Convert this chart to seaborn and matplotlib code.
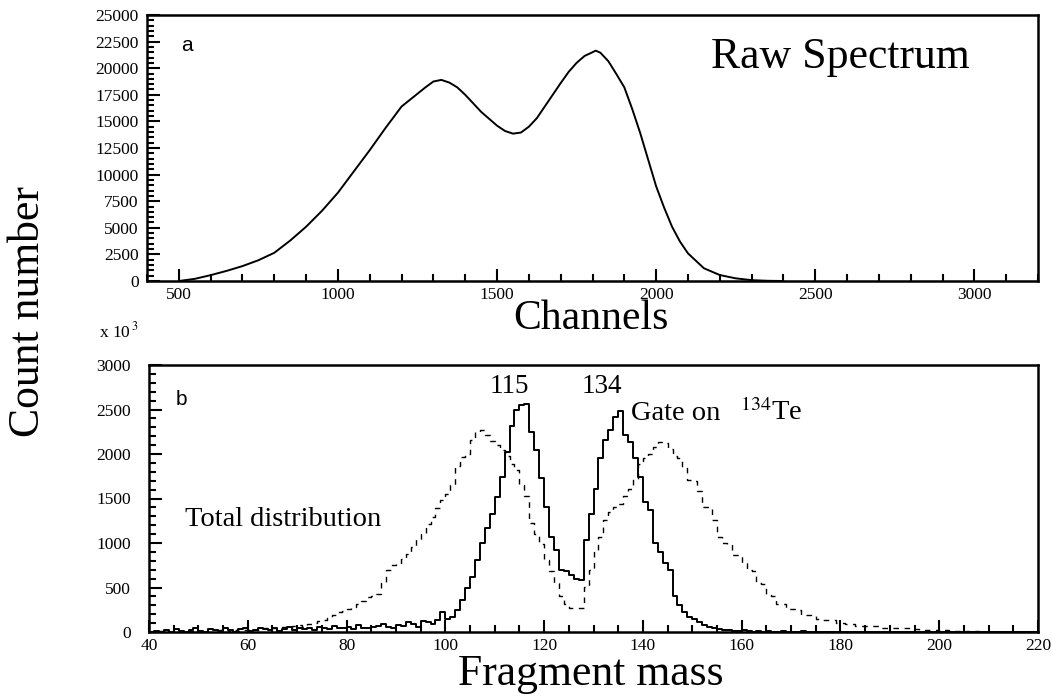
import numpy as np
import pandas as pd
import seaborn as sns
import matplotlib.pyplot as plt
from matplotlib.ticker import MultipleLocator

# ---------------- data ----------------
# (a) raw spectrum
channels = [500, 550, 600, 650, 700, 750, 800, 850, 900, 950, 1000, 1050, 1100, 1150,
            1200, 1225, 1250, 1275, 1300, 1325, 1350, 1375, 1400, 1425, 1450, 1475,
            1500, 1525, 1550, 1575, 1600, 1625, 1650, 1675, 1700, 1725, 1750, 1775,
            1800, 1810, 1825, 1850, 1875, 1900, 1925, 1950, 1975, 2000, 2025, 2050,
            2075, 2100, 2150, 2200, 2250, 2300, 2350, 2400]
raw_counts = [0, 200, 550, 950, 1400, 1950, 2650, 3800, 5100, 6600, 8300, 10300, 12300, 14400,
              16400, 17000, 17600, 18200, 18750, 18900, 18650, 18200, 17500, 16700, 15900, 15250,
              14600, 14100, 13850, 13950, 14500, 15300, 16400, 17500, 18600, 19650, 20500, 21150,
              21500, 21650, 21450, 20650, 19450, 18200, 16150, 13900, 11400, 8900, 6900, 5100,
              3700, 2600, 1200, 560, 250, 80, 20, 0]

# (b) fragment mass distributions (one value per unit mass bin, 40..219)
mass = list(range(40, 220))
gate_counts = [
    0, 10, 0, 20, 0, 30, 10, 0, 20, 40,
    10, 0, 30, 20, 10, 50, 20, 0, 30, 40,
    10, 20, 50, 30, 20, 40, 10, 30, 60, 20,
    40, 30, 50, 20, 60, 40, 30, 70, 50, 40,
    60, 30, 80, 50, 40, 60, 70, 90, 60, 50,
    80, 70, 110, 90, 60, 120, 110, 90, 130, 220,
    150, 170, 250, 360, 490, 620, 810, 1000, 1165, 1330,
    1520, 1745, 2025, 2310, 2490, 2550, 2560, 2250, 2045, 1730,
    1410, 1070, 920, 700, 680, 640, 600, 580, 1035, 1330,
    1610, 1950, 2160, 2270, 2420, 2480, 2210, 2140, 1950, 1745,
    1465, 1370, 1000, 900, 770, 700, 400, 300, 230, 170,
    150, 115, 80, 60, 40, 30, 20, 25, 10, 15,
    20, 10, 5, 10, 0, 10, 5, 0, 10, 0,
    5, 0, 10, 0, 0, 5, 0, 0, 5, 0,
    0, 5, 0, 0, 0, 5, 0, 0, 0, 0,
    0, 0, 0, 0, 0, 0, 0, 0, 0, 0,
    0, 0, 0, 0, 0, 0, 0, 0, 0, 0,
    0, 0, 0, 0, 0, 0, 0, 0, 0, 0,
]
total_counts = [
    0, 0, 10, 0, 0, 10, 0, 0, 10, 0,
    0, 10, 0, 10, 20, 0, 10, 20, 10, 20,
    30, 20, 20, 40, 30, 50, 40, 60, 50, 70,
    75, 60, 90, 100, 120, 140, 170, 190, 230, 240,
    260, 280, 320, 350, 390, 400, 430, 550, 700, 750,
    760, 820, 880, 950, 1040, 1100, 1210, 1290, 1390, 1480,
    1550, 1650, 1860, 1970, 2000, 2160, 2250, 2270, 2210, 2150,
    2100, 2050, 1980, 1890, 1820, 1650, 1530, 1220, 1100, 990,
    810, 680, 545, 400, 320, 270, 270, 265, 510, 700,
    920, 1070, 1260, 1350, 1400, 1440, 1530, 1610, 1720, 1890,
    1950, 2000, 2080, 2140, 2120, 2060, 1980, 1950, 1840, 1710,
    1700, 1580, 1410, 1400, 1260, 1070, 1000, 990, 870, 860,
    770, 700, 690, 550, 540, 420, 410, 320, 320, 255,
    255, 250, 190, 190, 185, 145, 140, 140, 140, 100,
    100, 95, 95, 70, 70, 65, 65, 65, 40, 40,
    40, 40, 40, 40, 35, 30, 20, 20, 25, 20,
    15, 20, 10, 15, 10, 10, 5, 10, 5, 0,
    5, 0, 5, 0, 0, 5, 0, 0, 0, 0,
]

# ---------------- style ----------------
sns.set_theme(style="ticks")
plt.rcParams['font.family'] = ['Liberation Serif', 'DejaVu Serif']
plt.rcParams['mathtext.fontset'] = 'stix'
for k in ('text.color', 'axes.labelcolor', 'xtick.color', 'ytick.color', 'axes.edgecolor'):
    plt.rcParams[k] = 'black'

W, H = 1052, 697
fig = plt.figure(figsize=(W / 100, H / 100), dpi=100)
ax1 = fig.add_axes([147 / W, 1 - 281 / H, (1038 - 147) / W, (281 - 15) / H])
ax2 = fig.add_axes([149 / W, 1 - 632 / H, (1038 - 149) / W, (632 - 365) / H])

raw_df = pd.DataFrame({"channel": channels, "count": raw_counts})
sns.lineplot(data=raw_df, x="channel", y="count", ax=ax1, color="black", linewidth=1.4)

mass_df = pd.DataFrame({"mass": mass, "gate": gate_counts, "total": total_counts})
sns.histplot(data=mass_df, x="mass", weights="total", binwidth=1, binrange=(40, 220),
             element="step", fill=False, color="black", linewidth=1.0,
             linestyle=(0, (4, 4)), ax=ax2)
sns.histplot(data=mass_df, x="mass", weights="gate", binwidth=1, binrange=(40, 220),
             element="step", fill=False, color="black", linewidth=1.4, ax=ax2)

# axes limits / ticks
ax1.set_xlim(400, 3200)
ax1.set_ylim(0, 25000)
ax1.xaxis.set_major_locator(MultipleLocator(500))
ax1.xaxis.set_minor_locator(MultipleLocator(100))
ax1.yaxis.set_major_locator(MultipleLocator(2500))
ax1.yaxis.set_minor_locator(MultipleLocator(500))

ax2.set_xlim(40, 220)
ax2.set_ylim(0, 3000)
ax2.xaxis.set_major_locator(MultipleLocator(20))
ax2.xaxis.set_minor_locator(MultipleLocator(5))
ax2.yaxis.set_major_locator(MultipleLocator(500))
ax2.yaxis.set_minor_locator(MultipleLocator(100))

for ax in (ax1, ax2):
    ax.set_xlabel("")
    ax.set_ylabel("")
    for s in ax.spines.values():
        s.set_visible(True)
        s.set_linewidth(1.8)
        s.set_color("black")
    ax.tick_params(which="both", direction="in", top=False, right=False,
                   width=1.5, color="black", labelcolor="black", labelsize=12.5)
    ax.tick_params(which="major", length=9)
    ax.tick_params(which="minor", length=5)
    ax.tick_params(axis="x", which="both", pad=4)
ax1.tick_params(axis="y", which="both", pad=6)
ax2.tick_params(axis="y", which="both", pad=13)

# texts
ax1.text(0.045, 0.885, "a", transform=ax1.transAxes, fontsize=15,
         family=["Liberation Sans", "DejaVu Sans"], ha="center", va="center")
ax1.text(0.778, 0.801, "Raw Spectrum", transform=ax1.transAxes, fontsize=31.5,
         ha="center", va="baseline")
ax2.text(0.037, 0.87, "b", transform=ax2.transAxes, fontsize=15,
         family=["Liberation Sans", "DejaVu Sans"], ha="center", va="center")

ax2.text(112.9, 2685, "115", fontsize=19.5, ha="center", va="baseline")
ax2.text(131.6, 2685, "134", fontsize=19.5, ha="center", va="baseline")
ax2.text(137.5, 2382, "Gate on", fontsize=20.5, ha="left", va="baseline")
ax2.text(159.6, 2382, r"$^{134}$Te", fontsize=20.5, ha="left", va="baseline")
ax2.text(47.3, 1191, "Total distribution", fontsize=20.5, ha="left", va="baseline")

fig.text(99 / W, 1 - 337 / H, r"x 10$^{\,3}$", fontsize=12.5, ha="left", va="baseline")

fig.text(591 / W, 1 - 329 / H, "Channels", fontsize=30, ha="center", va="baseline")
fig.text(591 / W, 1 - 685 / H, "Fragment mass", fontsize=31.5, ha="center", va="baseline")
fig.text(28 / W, 1 - 312 / H, "Count number", fontsize=31.5, rotation=90,
         ha="center", va="center")

fig.savefig("out.png", dpi=100)
